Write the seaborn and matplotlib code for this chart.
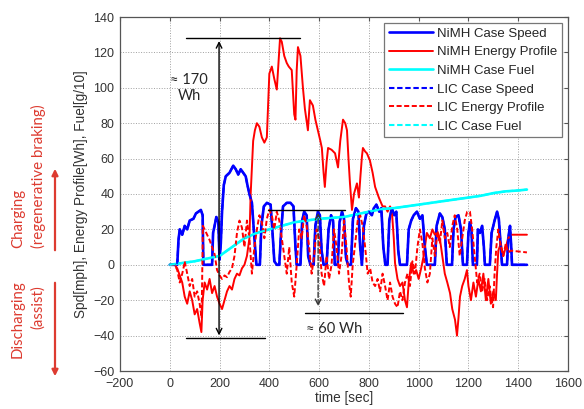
import numpy as np
import pandas as pd
import matplotlib
matplotlib.use('Agg')
import matplotlib.pyplot as plt
import seaborn as sns

# drive cycle speed (same cycle for both cases)
speed_t = [0, 30, 35, 40, 50, 60, 70, 80, 95, 105, 115, 125, 132, 135, 170, 174, 180, 187, 195, 200,
           205, 210, 217, 225, 240, 255, 265, 275, 285, 295, 305, 312, 320, 330, 340, 348, 362, 368,
           378, 390, 405, 412, 420, 430, 440, 447, 455, 470, 485, 497, 505, 510, 525, 532, 540, 550,
           556, 565, 578, 585, 595, 603, 610, 618, 630, 638, 648, 656, 663, 675, 682, 692, 700, 708,
           716, 728, 736, 748, 758, 765, 772, 780, 790, 800, 812, 820, 830, 842, 850, 858, 866, 875,
           882, 892, 902, 910, 918, 925, 953, 960, 970, 980, 993, 1005, 1015, 1025, 1033, 1065, 1072,
           1085, 1095, 1105, 1113, 1134, 1140, 1148, 1160, 1170, 1178, 1194, 1200, 1206, 1212, 1218,
           1234, 1238, 1246, 1255, 1262, 1266, 1286, 1293, 1305, 1315, 1322, 1330, 1335, 1355, 1360,
           1367, 1372, 1375, 1435]
speed_v = [0, 0, 14, 20, 17, 22, 20, 25, 26, 29, 30, 31, 28, 0, 0, 18, 22, 27, 24, 3,
           12, 30, 45, 50, 52, 56, 54, 51, 54, 52, 50, 45, 40, 35, 15, 0, 0, 22,
           33, 35, 34, 20, 2, 0, 0, 18, 33, 35, 35, 33, 10, 0, 0, 25, 30, 28,
           5, 0, 0, 22, 30, 28, 8, 0, 0, 20, 28, 25, 0, 0, 24, 30, 26, 4,
           0, 0, 26, 32, 30, 10, 0, 22, 29, 30, 28, 32, 34, 30, 32, 10, 0, 0,
           25, 32, 28, 30, 8, 0, 0, 20, 25, 28, 30, 26, 28, 10, 0, 0, 22,
           29, 27, 20, 0, 0, 20, 27, 28, 20, 0, 0, 18, 24, 20, 0,
           0, 20, 18, 22, 10, 0, 0, 18, 25, 30, 26, 10, 0, 0, 15,
           22, 10, 0, 0]

# fuel [g/10]
fuel_t = [0, 50, 100, 150, 200, 230, 260, 300, 350, 400, 450, 500, 550, 600, 650, 700, 750, 800,
          850, 900, 950, 1000, 1050, 1100, 1150, 1200, 1250, 1300, 1350, 1400, 1435]
fuel_v = [0, 1, 2, 3.5, 5, 8, 11, 15, 18, 20, 22, 24, 25, 26, 26.5, 27, 28.5, 30,
          31.5, 32, 33, 34, 35, 36, 37, 38, 39, 40.5, 41.5, 42, 42.5]

# NiMH energy profile [Wh]
nimh_t = [0, 20, 30, 40, 50, 60, 70, 80, 90, 100, 110, 120, 127, 132, 140, 150, 160, 170, 180, 190,
          200, 210, 220, 230, 240, 250, 260, 270, 280, 290, 300, 310, 320, 325, 335, 342, 350, 360,
          370, 380, 390, 395, 400, 410, 420, 430, 437, 443, 450, 460, 470, 478, 490, 500, 505, 510,
          515, 525, 535, 543, 555, 563, 575, 585, 595, 605, 611, 618, 623, 630, 636, 650, 664, 676,
          685, 696, 705, 712, 718, 724, 732, 740, 752, 760, 766, 772, 776, 785, 792, 804, 815, 825,
          840, 855, 865, 875, 885, 893, 900, 905, 915, 925, 935, 945, 953, 960, 970, 980, 990, 1000,
          1010, 1020, 1033, 1045, 1055, 1065, 1075, 1085, 1095, 1105, 1115, 1126, 1135, 1146, 1154,
          1160, 1166, 1175, 1185, 1194, 1200, 1210, 1220, 1230, 1240, 1250, 1260, 1270, 1280, 1290,
          1300, 1310, 1315, 1320, 1330, 1340, 1350, 1360, 1370, 1435]
nimh_v = [0, 0, -2, -6, -10, -18, -22, -15, -20, -28, -25, -33, -38, -20, -10, -14, -8, -16, -12, -18,
          -22, -25, -20, -15, -12, -14, -8, -5, -6, -2, 0, 5, 15, 40, 70, 76, 80, 78,
          72, 69, 72, 90, 108, 112, 105, 99, 115, 128, 126, 118, 114, 112, 110, 85, 82, 110,
          123, 118, 100, 88, 76, 93, 90, 82, 76, 70, 66, 52, 44, 58, 66, 65, 63, 55,
          70, 82, 80, 76, 60, 46, 31, 40, 46, 38, 50, 61, 66, 64, 63, 59, 52, 44,
          38, 33, 33, 30, 33, 29, 15, 1, -8, -12, -10, -20, -24, -10, 1, -5, -3, -8,
          -2, 5, 18, 15, 20, 17, 19, 15, 5, -5, -10, -16, -25, -31, -40,
          -30, -18, -12, -8, -3, -12, -20, -10, -18, -8, -15, -5, -20, -8, -22,
          -15, -20, -5, 8, 12, 5, 10, 15, 17, 17]

# LIC energy profile [Wh]
lic_t = [0, 20, 30, 40, 50, 55, 60, 70, 80, 90, 100, 110, 120, 128, 133, 140, 150, 160, 170, 180,
         190, 200, 210, 220, 230, 240, 250, 260, 270, 280, 290, 300, 310, 320, 330, 340, 350, 360,
         370, 380, 390, 400, 410, 420, 430, 440, 450, 460, 470, 480, 490, 500, 510, 520, 530, 540,
         550, 560, 570, 580, 590, 600, 610, 620, 630, 640, 650, 660, 670, 680, 690, 700, 710, 720,
         727, 735, 745, 755, 765, 775, 785, 795, 805, 815, 825, 835, 845, 855, 865, 875, 885, 895,
         905, 915, 925, 935, 945, 955, 965, 975, 985, 995, 1005, 1015, 1025, 1035, 1045, 1055, 1065,
         1075, 1085, 1095, 1105, 1115, 1125, 1135, 1145, 1155, 1165, 1175, 1185, 1195, 1206, 1215,
         1225, 1235, 1245, 1255, 1265, 1275, 1285, 1293, 1299, 1305, 1312, 1320, 1330, 1340, 1350,
         1360, 1370, 1435]
lic_v = [0, 0, -3, -10, -5, -2, 2, -5, -12, -8, -18, -15, -22, -30, 22, 20, 17, 14, 10, 6,
         -3, -6, -8, -6, -7, -4, -2, 5, 18, 25, 21, 10, 25, 15, -5, 10, 20, 28,
         24, 15, 26, 31, 28, 20, 30, 25, 15, 5, -5, 10, -10, -18, 0, 20, 15, 28,
         22, 10, -5, 5, 20, 15, -5, -12, 5, -8, 0, 20, 10, -5, 5, 25, 10, -10,
         -18, 0, 12, 25, 28, 22, 10, -5, -2, -10, -12, -8, -15, -5, -12, -20, -10, -18,
         -22, -24, -15, -20, -10, -5, -12, 2, -5, 10, 20, 12, -2, -10, -5, 15, 5,
         18, 12, 25, 15, 18, 10, 22, 28, 20, 5, 15, 25, 30, 30, 20,
         5, -10, -5, -15, -8, -20, -12, -20, -24, -5, 10, 20, 10, 5, 12,
         7, 8, 7]

series = [
    ('NiMH Case Speed', speed_t, speed_v, 'blue', None, 1.9),
    ('NiMH Energy Profile', nimh_t, nimh_v, 'red', None, 1.4),
    ('NiMH Case Fuel', fuel_t, fuel_v, 'cyan', None, 1.9),
    ('LIC Case Speed', speed_t, speed_v, 'blue', (2.6, 1.3), 1.5),
    ('LIC Energy Profile', lic_t, lic_v, 'red', (2.6, 1.3), 1.4),
    ('LIC Case Fuel', fuel_t, fuel_v, 'cyan', (2.6, 1.3), 1.5),
]

sns.set_style('white')
plt.rcParams['font.family'] = ['Liberation Sans', 'DejaVu Sans']

fig = plt.figure(figsize=(5.84, 4.09), dpi=100)
ax = fig.add_axes([120 / 584, 1 - 371 / 409, 448 / 584, 354 / 409])

for name, t, v, c, dash, lw in series:
    d = pd.DataFrame({'time': t, 'value': v})
    kw = {}
    if dash is not None:
        kw['dashes'] = dash
    sns.lineplot(data=d, x='time', y='value', color=c, linewidth=lw, label=name,
                 estimator=None, sort=False, ax=ax, **kw)

ax.set_xlim(-200, 1600)
ax.set_ylim(-60, 140)
ax.set_xticks(np.arange(-200, 1601, 200))
ax.set_yticks(np.arange(-60, 141, 20))
ax.grid(True, linestyle=':', color='#a0a0a0', linewidth=0.7)
ax.tick_params(direction='in', length=3, labelsize=9, labelcolor='#333333',
               top=True, right=True, color='#555555')
ax.tick_params(axis='x', pad=5)
ax.tick_params(axis='y', pad=4)
for s in ax.spines.values():
    s.set_color('#555555')
    s.set_linewidth(0.9)
ax.set_xlabel('time [sec]', fontsize=9.8, color='#333333', labelpad=1)
ax.set_ylabel('Spd[mph], Energy Profile[Wh], Fuel[g/10]', fontsize=9.8, color='#333333', labelpad=4)

leg = ax.legend(loc='upper right', fontsize=9.5, handlelength=3.3, labelspacing=0.48,
                fancybox=False, framealpha=1, edgecolor='#777777', borderaxespad=0.45,
                borderpad=0.35, handletextpad=0.35)
leg.get_frame().set_linewidth(0.9)

# callouts
callout = ['Lato', 'DejaVu Sans']
ax.plot([65, 523], [128, 128], color='black', lw=1)
ax.plot([65, 383], [-41.5, -41.5], color='black', lw=1)
ax.annotate('', xy=(198, 128), xytext=(198, -41.5),
            arrowprops=dict(arrowstyle='<->', color='black', lw=1))
ax.text(77, 100, '≈ 170\nWh', ha='center', va='center', multialignment='center',
        fontsize=10.5, family=callout, linespacing=1.2)

ax.plot([395, 704], [31, 31], color='black', lw=1)
ax.plot([543, 937], [-27, -27], color='black', lw=1)
ax.annotate('', xy=(596, 31), xytext=(596, -25),
            arrowprops=dict(arrowstyle='<->', color='#333333', lw=1, linestyle='--'))
ax.text(660, -36, '≈ 60 Wh', ha='center', va='center', fontsize=10.5, family=callout)

# side labels
red = '#dd3b30'
fig.text(18 / 584, 1 - 248 / 409, 'Charging', rotation=90, ha='center', va='bottom',
         color=red, fontsize=10.8, family=callout)
fig.text(38 / 584, 1 - 248 / 409, '(regenerative braking)', rotation=90, ha='center', va='bottom',
         color=red, fontsize=10.8, family=callout)
fig.text(18 / 584, 1 - 280 / 409, 'Discharging', rotation=90, ha='center', va='top',
         color=red, fontsize=10.8, family=callout)
fig.text(38 / 584, 1 - 285 / 409, '(assist)', rotation=90, ha='center', va='top',
         color=red, fontsize=10.8, family=callout)
fig.patches.append(matplotlib.patches.FancyArrowPatch(
    (55 / 584, 1 - 253 / 409), (55 / 584, 1 - 166 / 409), transform=fig.transFigure,
    arrowstyle='-|>', mutation_scale=9, color=red, lw=1.6))
fig.patches.append(matplotlib.patches.FancyArrowPatch(
    (55 / 584, 1 - 280 / 409), (55 / 584, 1 - 379 / 409), transform=fig.transFigure,
    arrowstyle='-|>', mutation_scale=9, color=red, lw=1.6))

fig.savefig('out.png', dpi=100)
